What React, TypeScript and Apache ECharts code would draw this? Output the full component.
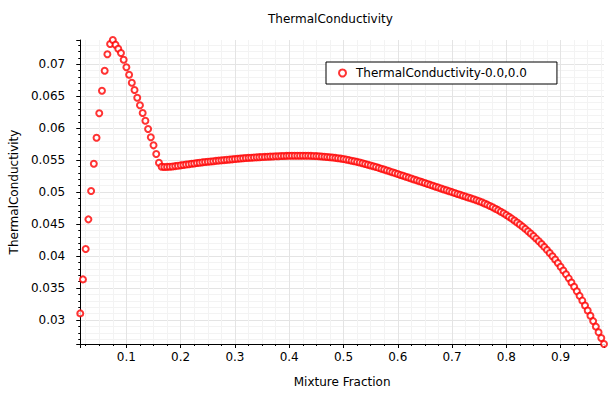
import React, { useEffect, useRef } from "react";
import * as echarts from "echarts";

const chartTitle = "ThermalConductivity";
const xAxisName = "Mixture Fraction";
const yAxisName = "ThermalConductivity";
const seriesName = "ThermalConductivity-0.0,0.0";

const mixtureFraction = [
  0.015, 0.02, 0.025, 0.03, 0.035, 0.04, 0.045, 0.05, 0.055, 0.06,
  0.065, 0.07, 0.075, 0.08, 0.085, 0.09, 0.095, 0.1, 0.105, 0.11,
  0.115, 0.12, 0.125, 0.13, 0.135, 0.14, 0.145, 0.15, 0.155, 0.16,
  0.165, 0.17, 0.175, 0.18, 0.185, 0.19, 0.195, 0.2, 0.205, 0.21,
  0.215, 0.22, 0.225, 0.23, 0.235, 0.24, 0.245, 0.25, 0.255, 0.26,
  0.265, 0.27, 0.275, 0.28, 0.285, 0.29, 0.295, 0.3, 0.305, 0.31,
  0.315, 0.32, 0.325, 0.33, 0.335, 0.34, 0.345, 0.35, 0.355, 0.36,
  0.365, 0.37, 0.375, 0.38, 0.385, 0.39, 0.395, 0.4, 0.405, 0.41,
  0.415, 0.42, 0.425, 0.43, 0.435, 0.44, 0.445, 0.45, 0.455, 0.46,
  0.465, 0.47, 0.475, 0.48, 0.485, 0.49, 0.495, 0.5, 0.505, 0.51,
  0.515, 0.52, 0.525, 0.53, 0.535, 0.54, 0.545, 0.55, 0.555, 0.56,
  0.565, 0.57, 0.575, 0.58, 0.585, 0.59, 0.595, 0.6, 0.605, 0.61,
  0.615, 0.62, 0.625, 0.63, 0.635, 0.64, 0.645, 0.65, 0.655, 0.66,
  0.665, 0.67, 0.675, 0.68, 0.685, 0.69, 0.695, 0.7, 0.705, 0.71,
  0.715, 0.72, 0.725, 0.73, 0.735, 0.74, 0.745, 0.75, 0.755, 0.76,
  0.765, 0.77, 0.775, 0.78, 0.785, 0.79, 0.795, 0.8, 0.805, 0.81,
  0.815, 0.82, 0.825, 0.83, 0.835, 0.84, 0.845, 0.85, 0.855, 0.86,
  0.865, 0.87, 0.875, 0.88, 0.885, 0.89, 0.895, 0.9, 0.905, 0.91,
  0.915, 0.92, 0.925, 0.93, 0.935, 0.94, 0.945, 0.95, 0.955, 0.96,
  0.965, 0.97, 0.975, 0.98,
];

const thermalConductivity = [
  0.03103, 0.03635, 0.0411, 0.04574, 0.05017, 0.05444, 0.05851, 0.06233, 0.06587, 0.069,
  0.07156, 0.07318, 0.0738, 0.07307, 0.07244, 0.07177, 0.07072, 0.06953, 0.06837, 0.06712,
  0.06598, 0.06477, 0.06358, 0.06238, 0.06117, 0.05987, 0.05858, 0.05732, 0.05596, 0.0546,
  0.05398, 0.05393, 0.05395, 0.05398, 0.05402, 0.05407, 0.05412, 0.05419, 0.05425, 0.05431,
  0.05437, 0.05443, 0.05449, 0.05455, 0.0546, 0.05466, 0.05471, 0.05475, 0.0548, 0.05484,
  0.05489, 0.05493, 0.05497, 0.05501, 0.05505, 0.05509, 0.05513, 0.05517, 0.05521, 0.05526,
  0.0553, 0.05533, 0.05536, 0.05539, 0.05542, 0.05544, 0.05547, 0.05549, 0.05551, 0.05553,
  0.05556, 0.05558, 0.0556, 0.05562, 0.05564, 0.05566, 0.05567, 0.05568, 0.05569, 0.0557,
  0.0557, 0.0557, 0.0557, 0.05569, 0.05568, 0.05567, 0.05565, 0.05563, 0.05561, 0.05558,
  0.05554, 0.0555, 0.05546, 0.05541, 0.05536, 0.0553, 0.05524, 0.05517, 0.05509, 0.05501,
  0.05492, 0.05483, 0.05473, 0.05463, 0.05452, 0.05441, 0.05429, 0.05417, 0.05405, 0.05392,
  0.05379, 0.05366, 0.05353, 0.05339, 0.05325, 0.05311, 0.05297, 0.05283, 0.05269, 0.05255,
  0.05241, 0.05227, 0.05212, 0.05198, 0.05184, 0.0517, 0.05156, 0.05142, 0.05127, 0.05113,
  0.05099, 0.05085, 0.05071, 0.05057, 0.05042, 0.05028, 0.05014, 0.05, 0.04986, 0.04972,
  0.04958, 0.04944, 0.0493, 0.04916, 0.04902, 0.04888, 0.04873, 0.04858, 0.04841, 0.04823,
  0.04804, 0.04784, 0.04763, 0.04741, 0.04718, 0.04694, 0.04669, 0.04643, 0.04615, 0.04586,
  0.04556, 0.04525, 0.04493, 0.0446, 0.04425, 0.04389, 0.04352, 0.04313, 0.04273, 0.04231,
  0.04188, 0.04143, 0.04096, 0.04047, 0.03997, 0.03945, 0.0389, 0.03832, 0.03774, 0.03714,
  0.03651, 0.03586, 0.03519, 0.03449, 0.03377, 0.03303, 0.03226, 0.03147, 0.03066, 0.02982,
  0.02896, 0.02808, 0.02717, 0.02624,
];

const FONT = "DejaVu Sans";

export default function App() {
  const ref = useRef<HTMLDivElement>(null);

  useEffect(() => {
    document.body.style.margin = "0";
    if (!ref.current) return;
    const chart = echarts.init(ref.current, null, { renderer: "svg" });
    const points = mixtureFraction.map((x, i) => [x, thermalConductivity[i]]);
    const xMin = Math.min(...mixtureFraction);
    const xMax = Math.max(...mixtureFraction);
    const yMin = Math.min(...thermalConductivity);
    const yMax = Math.max(...thermalConductivity);

    const axisCommon = {
      type: "value" as const,
      nameLocation: "middle" as const,
      nameTextStyle: { fontFamily: FONT, fontSize: 12, color: "#000" },
      axisLine: { show: true, lineStyle: { color: "#000", width: 1 } },
      axisTick: { show: true, inside: false, length: 4, lineStyle: { color: "#000" } },
      minorTick: { show: true, length: 2, lineStyle: { color: "#000" } },
      splitLine: {
        show: true,
        showMinLine: false,
        showMaxLine: false,
        lineStyle: { color: "#e4e4e4", width: 1 },
      },
      minorSplitLine: { show: true, lineStyle: { color: "#f3f3f3", width: 1 } },
      axisLabel: {
        fontFamily: FONT,
        fontSize: 12,
        color: "#000",
        showMinLabel: false,
        showMaxLabel: false,
      },
    };

    chart.setOption({
      animation: false,
      backgroundColor: "#fff",
      title: {
        text: chartTitle,
        left: 268,
        top: 13,
        padding: 0,
        textStyle: { fontFamily: FONT, fontSize: 12, fontWeight: "normal", color: "#000" },
      },
      legend: {
        left: 326,
        top: 62,
        orient: "vertical",
        backgroundColor: "#fff",
        borderColor: "#000",
        borderWidth: 1,
        borderRadius: 0,
        padding: [5, 30, 5, 12],
        itemWidth: 7,
        itemHeight: 7,
        icon: "emptyCircle",
        textStyle: { fontFamily: FONT, fontSize: 12, color: "#000", padding: [0, 0, 0, 5] },
        data: [seriesName],
      },
      grid: { left: 77, right: 9, top: 40, bottom: 51, containLabel: false },
      xAxis: {
        ...axisCommon,
        name: xAxisName,
        nameGap: 32,
        min: xMin,
        max: xMax,
        splitNumber: 10,
        minorTick: { ...axisCommon.minorTick, splitNumber: 4 },
        axisLabel: { ...axisCommon.axisLabel, margin: 7 },
      },
      yAxis: {
        ...axisCommon,
        name: yAxisName,
        nameGap: 53,
        min: yMin,
        max: yMax,
        splitNumber: 10,
        minorTick: { ...axisCommon.minorTick, splitNumber: 5 },
        axisLabel: { ...axisCommon.axisLabel, margin: 15 },
      },
      series: [
        {
          name: seriesName,
          type: "scatter",
          data: points,
          symbol: "emptyCircle",
          symbolSize: 6,
          itemStyle: { color: "#ff0000", borderColor: "#ff0000", borderWidth: 1.2 },
          clip: false,
        },
      ],
    });
    return () => chart.dispose();
  }, []);

  return <div ref={ref} style={{ width: 613, height: 395 }} />;
}
